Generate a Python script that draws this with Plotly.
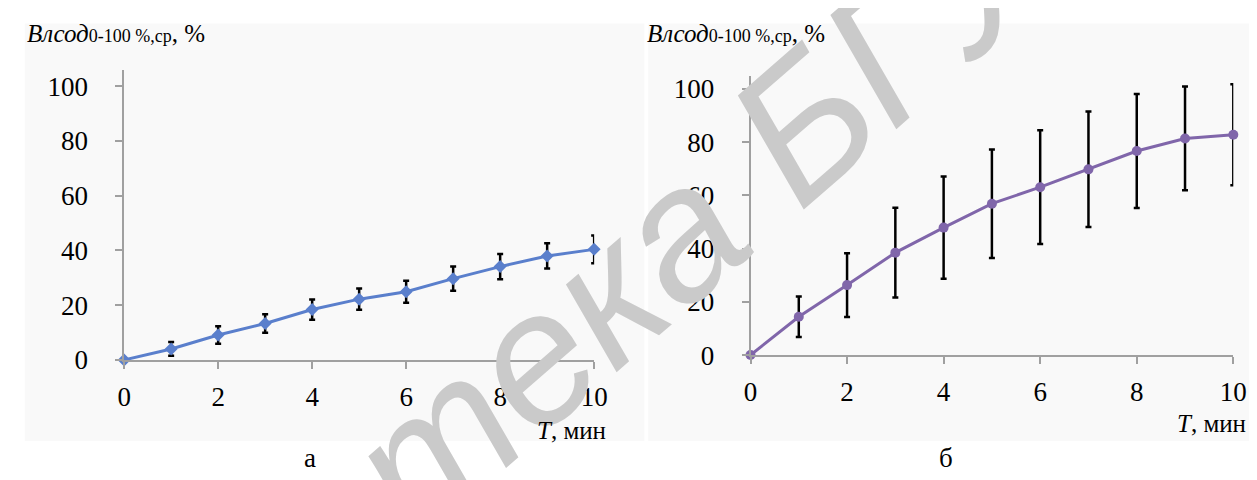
import plotly.graph_objects as go

W, H = 1257, 480

T = [0, 1, 2, 3, 4, 5, 6, 7, 8, 9, 10]
a_mean = [0, 4.0, 9.1, 13.3, 18.4, 22.2, 24.9, 29.7, 34.1, 38.0, 40.4]
a_err = [0, 2.5, 3.2, 3.4, 3.7, 3.9, 4.0, 4.4, 4.6, 4.6, 5.1]
b_mean = [0, 14.4, 26.3, 38.5, 47.9, 56.9, 63.1, 69.8, 76.7, 81.4, 82.8]
b_err = [0, 7.6, 12.0, 16.9, 19.2, 20.4, 21.4, 21.7, 21.4, 19.5, 19.0]
x_ticks = [0, 2, 4, 6, 8, 10]
y_ticks = [0, 20, 40, 60, 80, 100]

SERIF = "Liberation Serif"
AX = "#a0a0a0"

def px(x):
    return x / W

def py(y):
    return 1 - y / H

fig = go.Figure()
fig.add_trace(go.Scatter(
    x=T, y=a_mean, mode="lines+markers",
    line=dict(color="#5a7fcc", width=3),
    marker=dict(symbol="diamond", size=10, color="#5a7fcc"),
    error_y=dict(type="data", array=a_err, color="black", thickness=2.5, width=3),
    xaxis="x", yaxis="y", cliponaxis=False, showlegend=False))
fig.add_trace(go.Scatter(
    x=T, y=b_mean, mode="lines+markers",
    line=dict(color="#8066aa", width=3),
    marker=dict(symbol="circle", size=10, color="#8066aa"),
    error_y=dict(type="data", array=b_err, color="black", thickness=2.5, width=3),
    xaxis="x2", yaxis="y2", cliponaxis=False, showlegend=False))

def xa(domain, anchor):
    return dict(domain=domain, anchor=anchor, range=[0, 10], tickvals=x_ticks,
                showgrid=False, zeroline=False, showline=True, linecolor=AX, linewidth=1.5,
                ticks="outside", ticklen=7, tickcolor=AX, tickwidth=1.5,
                ticklabelstandoff=5,
                tickfont=dict(family=SERIF, size=27, color="black"))

def ya(domain, anchor, top):
    return dict(domain=domain, anchor=anchor, range=[0, top], tickvals=y_ticks,
                showgrid=False, zeroline=False, showline=True, linecolor=AX, linewidth=1.5,
                ticks="outside", ticklen=7, tickcolor=AX, tickwidth=1.5,
                ticklabelstandoff=22,
                tickfont=dict(family=SERIF, size=27, color="black"))

left_x = [px(111), px(589)]
right_x = [px(748), px(1239)]
left_y = [py(363), py(63)]
right_y = [py(358), py(69)]

title = ("<i>Влсод</i><span style='font-size:18px'>0-100 %,ср</span>, %")
annotations = [
    dict(text="<i>Библиотека БГУИР</i>", x=px(545), y=py(345), xanchor="center", yanchor="middle",
         textangle=-41, font=dict(family="Liberation Sans", size=188, color="#cacaca")),
    dict(text=title, x=px(10), y=py(25), xanchor="left", yanchor="middle",
         font=dict(family=SERIF, size=25, color="black")),
    dict(text=title, x=px(641), y=py(25), xanchor="left", yanchor="middle",
         font=dict(family=SERIF, size=25, color="black")),
    dict(text="<i>T</i>, мин", x=px(603), y=py(436), xanchor="right", yanchor="middle",
         font=dict(family=SERIF, size=25, color="black")),
    dict(text="<i>T</i>, мин", x=px(1254), y=py(429), xanchor="right", yanchor="middle",
         font=dict(family=SERIF, size=25, color="black")),
    dict(text="а", x=px(300), y=py(464), xanchor="center", yanchor="middle",
         font=dict(family=SERIF, size=27, color="black")),
    dict(text="б", x=px(947), y=py(464), xanchor="center", yanchor="middle",
         font=dict(family=SERIF, size=27, color="black")),
]
for a in annotations:
    a.update(xref="paper", yref="paper", showarrow=False)

shapes = [
    dict(type="rect", xref="paper", yref="paper", x0=px(10), x1=px(640), y0=py(447), y1=py(15),
         fillcolor="#f9f9f9", line=dict(width=0), layer="below"),
    dict(type="rect", xref="paper", yref="paper", x0=px(644), x1=1, y0=py(447), y1=py(15),
         fillcolor="#f9f9f9", line=dict(width=0), layer="below"),
]

fig.update_layout(
    width=W, height=H, autosize=False,
    margin=dict(l=0, r=0, t=0, b=0),
    paper_bgcolor="white", plot_bgcolor="rgba(0,0,0,0)",
    xaxis=xa(left_x, "y"), yaxis=ya(left_y, "x", 106),
    xaxis2=xa(right_x, "y2"), yaxis2=ya(right_y, "x2", 105),
    annotations=annotations, shapes=shapes,
)
fig.write_html("out.html")
